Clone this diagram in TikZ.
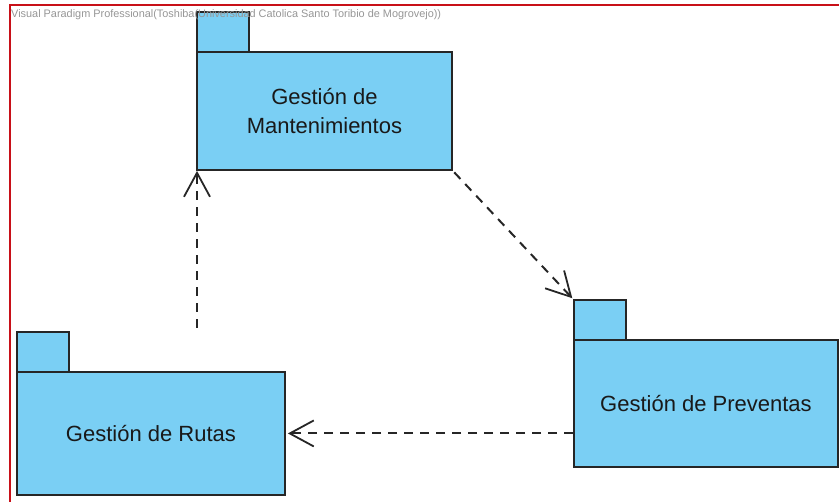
\documentclass[tikz,border=0pt]{standalone}
\usepackage{fontspec}
\setmainfont{Liberation Sans}
\usetikzlibrary{arrows.meta}
\definecolor{pkgblue}{RGB}{122,207,244}
\definecolor{framered}{RGB}{200,16,24}
\definecolor{hdrgray}{RGB}{150,150,150}
\begin{document}
\begin{tikzpicture}[x=1pt,y=-1pt,
  pkg/.style={draw=black!85, line width=1.9pt, fill=pkgblue, anchor=north west, inner sep=0pt,
    align=center, font=\fontsize{22}{29}\selectfont, text=black!90},
  pkgtab/.style={pkg, minimum width=52pt, minimum height=40pt},
  dep/.style={draw=black!85, line width=2pt, dash pattern=on 9pt off 7pt,
    -{Straight Barb[length=24pt,width=26pt,line width=1.8pt]}},
  hdr/.style={anchor=west, inner sep=0pt, font=\fontsize{10.9}{12}\selectfont, text=hdrgray}]
\useasboundingbox (0,0) rectangle (839,502);
% frame
\draw[framered, line width=2.2pt] (10,520) -- (10,5) -- (850,5);
% packages
\node[pkgtab] (manttab) at (196,11) {};
\node[pkg, minimum width=255pt, minimum height=118pt] (mant) at (196,51) {Gestión de\\Mantenimientos};
\node[pkgtab] (prevtab) at (573,299) {};
\node[pkg, minimum width=264pt, minimum height=127pt] (prev) at (573,339) {Gestión de Preventas};
\node[pkgtab] (rutastab) at (16,331) {};
\node[pkg, minimum width=268pt, minimum height=123pt] (rutas) at (16,371) {Gestión de Rutas};
% header
\node[hdr] (header) at (11,15) {Visual Paradigm Professional(Toshiba(Universidad Catolica Santo Toribio de Mogrovejo))};
% dependencies
\coordinate (rutasfree) at (197,328);
\draw[dep] (rutasfree) -- (rutasfree |- mant.south);
\draw[dep, shorten <=2pt, shorten >=1pt] (mant.south east) -- (prevtab.north west);
\draw[dep, shorten >=2pt] (prev.west |- rutas.east) -- (rutas.east);
\end{tikzpicture}
\end{document}
